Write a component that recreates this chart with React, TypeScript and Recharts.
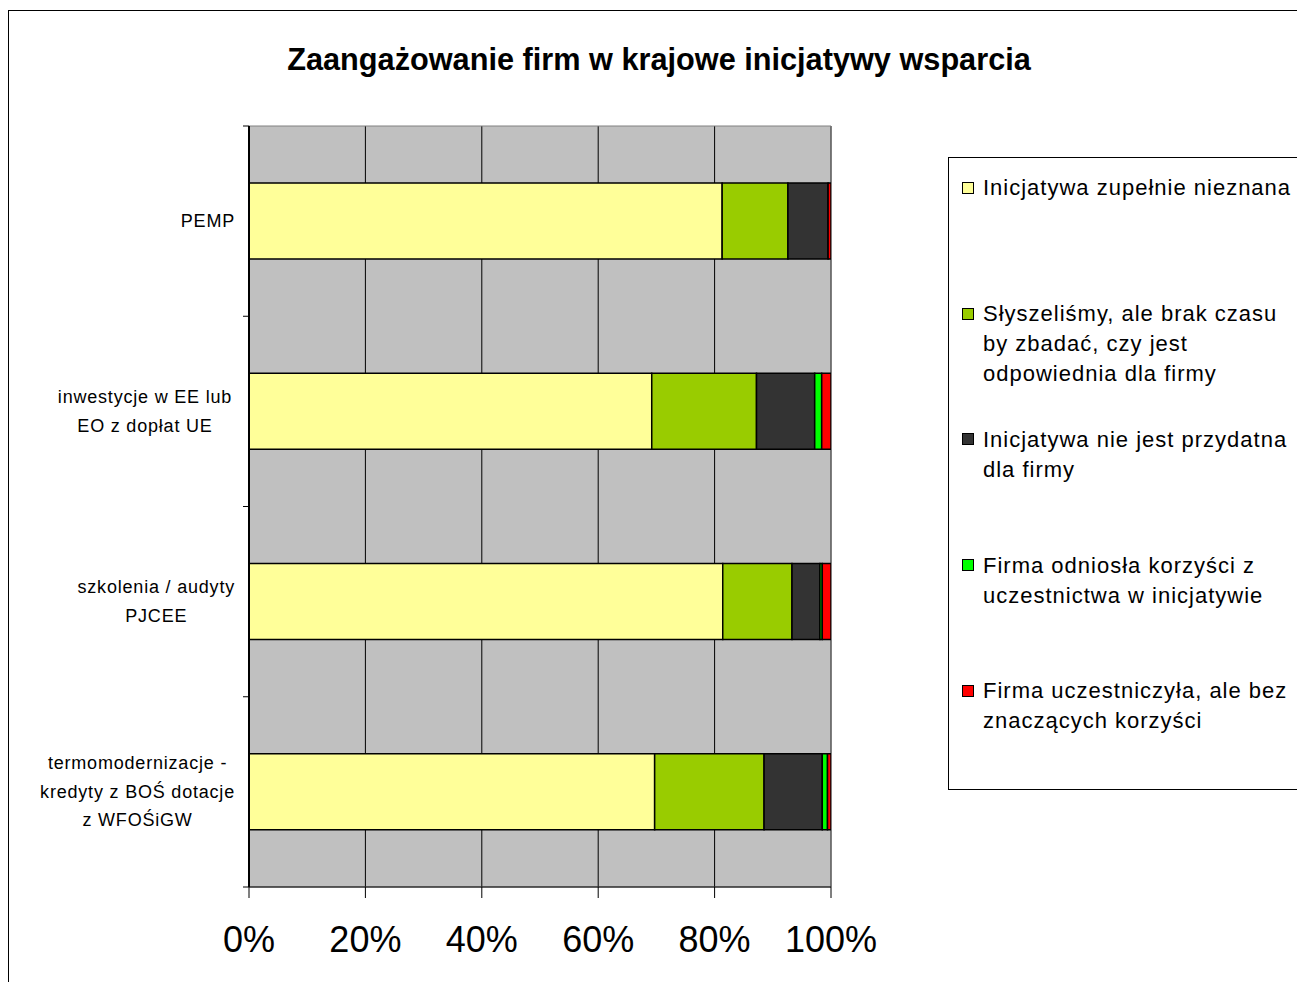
import React from 'react';
import { BarChart, Bar, XAxis, YAxis, CartesianGrid, ReferenceArea } from 'recharts';

const categories = [
  'PEMP',
  'inwestycje w EE lub EO z dopłat UE',
  'szkolenia / audyty PJCEE',
  'termomodernizacje - kredyty z BOŚ dotacje z WFOŚiGW',
];
const categoryLines = [
  ['PEMP'],
  ['inwestycje w  EE lub', 'EO z dopłat UE'],
  ['szkolenia / audyty', 'PJCEE'],
  ['termomodernizacje -', 'kredyty z BOŚ dotacje', 'z WFOŚiGW'],
];

const seriesNames = [
  'Inicjatywa zupełnie nieznana',
  'Słyszeliśmy, ale brak czasu by zbadać, czy jest odpowiednia dla firmy',
  'Inicjatywa nie jest przydatna dla firmy',
  'Firma odniosła korzyści z uczestnictwa w inicjatywie',
  'Firma uczestniczyła, ale bez znaczących korzyści',
];
const legendLines = [
  ['Inicjatywa zupełnie nieznana'],
  ['Słyszeliśmy, ale brak czasu', 'by zbadać, czy jest', 'odpowiednia dla firmy'],
  ['Inicjatywa nie jest przydatna', 'dla firmy'],
  ['Firma odniosła korzyści z', 'uczestnictwa w inicjatywie'],
  ['Firma uczestniczyła, ale bez', 'znaczących korzyści'],
];
const seriesColors = ['#FFFF99', '#99CC00', '#333333', '#00FF00', '#FF0000'];

const unknownValues = [81.3, 69.2, 81.4, 69.7];
const noTimeValues = [11.3, 18.0, 11.9, 18.8];
const notUsefulValues = [6.9, 10.0, 4.8, 10.0];
const benefitedValues = [0, 1.2, 0.4, 0.9];
const noBenefitValues = [0.5, 1.6, 1.5, 0.6];

const xTicks = [0, 20, 40, 60, 80, 100];
const title = 'Zaangażowanie firm w krajowe inicjatywy wsparcia';

const seriesValues = [unknownValues, noTimeValues, notUsefulValues, benefitedValues, noBenefitValues];
const data = categories.map((name, i) => {
  const row: any = { name };
  seriesValues.forEach((vals, s) => {
    row['s' + s] = vals[i];
  });
  return row;
});

const FONT = "'Liberation Sans', Arial, sans-serif";

let ctx: CanvasRenderingContext2D | null = null;
const measure = (t: string, font: string) => {
  if (!ctx) ctx = document.createElement('canvas').getContext('2d');
  if (!ctx) return t.length * 9;
  ctx.font = font;
  return ctx.measureText(t).width;
};

const Y_FS = 18;
const Y_LS = 0.8;

const YTick = (props: any) => {
  const { x, y, payload, index, visibleTicksCount } = props;
  const idx = categories.indexOf(payload.value);
  const lines = categoryLines[idx] || [String(payload.value)];
  const widths = lines.map((l) => measure(l, `${Y_FS}px ${FONT}`) + l.length * Y_LS);
  const maxW = Math.max(...widths);
  const right = x - 6;
  const cx = right - maxW / 2;
  const half = payload.offset || 95.125;
  const axisX = x + 8;
  const n = lines.length;
  return (
    <g>
      <line x1={axisX - 6} x2={axisX} y1={y - half} y2={y - half} stroke="#000" strokeWidth={1} />
      {index === (visibleTicksCount ?? categories.length) - 1 && (
        <line x1={axisX - 6} x2={axisX} y1={y + half} y2={y + half} stroke="#000" strokeWidth={1} />
      )}
      {lines.map((l, i) => (
        <text
          key={i}
          x={cx}
          y={y + (i - (n - 1) / 2) * 28.5}
          textAnchor="middle"
          dominantBaseline="central"
          fontSize={Y_FS}
          letterSpacing={Y_LS}
          fontFamily={FONT}
          fill="#000"
        >
          {l}
        </text>
      ))}
    </g>
  );
};

const XTick = (props: any) => {
  const { x, y, payload } = props;
  return (
    <text x={x} y={y + 52} textAnchor="middle" fontSize={36} fontFamily={FONT} fill="#000">
      {payload.value + '%'}
    </text>
  );
};

export default function App() {
  return (
    <div
      style={{
        position: 'fixed',
        left: 0,
        top: 0,
        width: 1297,
        height: 982,
        overflow: 'hidden',
        background: '#fff',
        fontFamily: FONT,
      }}
    >
      <div
        style={{
          position: 'absolute',
          left: 8,
          top: 10,
          width: 1400,
          height: 1100,
          border: '1px solid #000',
        }}
      />
      <div
        style={{
          position: 'absolute',
          left: 0,
          top: 45.2,
          width: 1318,
          textAlign: 'center',
          fontSize: 30.7,
          lineHeight: '30px',
          fontWeight: 'bold',
          color: '#000',
          whiteSpace: 'nowrap',
        }}
      >
        {title}
      </div>
      <div style={{ position: 'absolute', left: 0, top: 0 }}>
        <BarChart
          width={1297}
          height={982}
          data={data}
          layout="vertical"
          margin={{ top: 126, right: 466, bottom: 35, left: 9 }}
          barCategoryGap="30%"
        >
          <CartesianGrid horizontal={false} vertical={true} stroke="#000" strokeWidth={1} fill="#C0C0C0" fillOpacity={1} />
          <ReferenceArea x1={0} x2={100} fill="none" stroke="#808080" strokeWidth={1} ifOverflow="visible" />
          <XAxis
            type="number"
            domain={[0, 100]}
            ticks={xTicks}
            interval={0}
            height={60}
            axisLine={{ stroke: '#000', strokeWidth: 1 }}
            tickLine={{ stroke: '#000', strokeWidth: 1 }}
            tickSize={11}
            tick={<XTick />}
            allowDataOverflow
          />
          <YAxis
            type="category"
            dataKey="name"
            width={240}
            axisLine={{ stroke: '#000', strokeWidth: 2 }}
            tickLine={false}
            tick={<YTick />}
            interval={0}
          />
          {seriesNames.map((nm, s) => (
            <Bar
              key={s}
              dataKey={'s' + s}
              name={nm}
              stackId="a"
              fill={seriesColors[s]}
              stroke="#000"
              strokeWidth={1.5}
              isAnimationActive={false}
            />
          ))}
        </BarChart>
      </div>
      <div
        style={{
          position: 'absolute',
          left: 948,
          top: 157,
          width: 420,
          height: 631,
          border: '1px solid #000',
          background: '#fff',
        }}
      >
        {legendLines.map((lines, i) => (
          <div
            key={i}
            style={{ position: 'absolute', left: 0, top: 15.4 + i * 125.75, width: 400 }}
          >
            <div
              style={{
                position: 'absolute',
                left: 13,
                top: 8.6,
                width: 10,
                height: 10,
                background: seriesColors[i],
                border: '1px solid #000',
              }}
            />
            <div
              style={{
                position: 'absolute',
                left: 34,
                top: 0,
                fontSize: 22,
                lineHeight: '30px',
                letterSpacing: 1,
                color: '#000',
                whiteSpace: 'nowrap',
              }}
            >
              {lines.map((l, j) => (
                <div key={j}>{l}</div>
              ))}
            </div>
          </div>
        ))}
      </div>
    </div>
  );
}
